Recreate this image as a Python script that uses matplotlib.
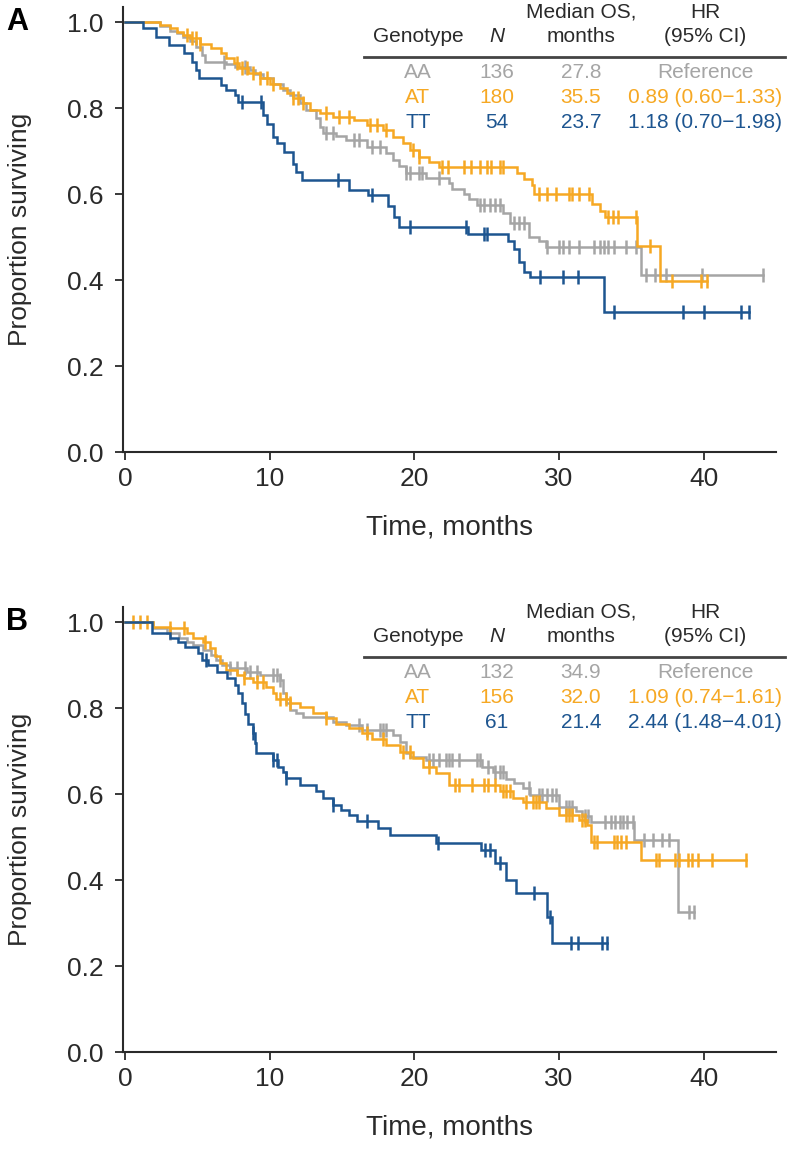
import matplotlib.pyplot as plt
import numpy as np

plt.rcParams['font.family'] = ['Liberation Sans', 'DejaVu Sans']

GREY = '#a5a5a5'
ORANGE = '#f6a823'
BLUE = '#1d5590'
INK = '#2a2a2a'

genotypes = ['AA', 'AT', 'TT']

# ---- panel A: step times / survival levels / censor times ----
a_aa_t = [0, 2.4, 3.1, 3.6, 4.0, 4.5, 4.9, 5.3, 5.5, 7.0, 7.6, 8.6, 9.0, 9.5, 10.2, 10.9, 11.4,
          12.1, 12.5, 13.2, 13.5, 13.7, 14.6, 15.3, 16.7, 18.0, 18.5, 18.9, 19.4, 20.8, 22.4,
          22.6, 23.4, 23.8, 24.3, 26.1, 26.6, 27.9, 28.6, 29.1, 35.7]
a_aa_s = [1.0, 0.99, 0.98, 0.975, 0.966, 0.955, 0.942, 0.923, 0.907, 0.902, 0.896, 0.888, 0.88,
          0.87, 0.857, 0.842, 0.83, 0.811, 0.795, 0.776, 0.757, 0.741, 0.735, 0.726, 0.71, 0.695,
          0.68, 0.665, 0.648, 0.637, 0.625, 0.612, 0.6, 0.588, 0.575, 0.556, 0.532, 0.5, 0.49,
          0.477, 0.412]
a_aa_cens = [6.8, 8.3, 13.9, 14.4, 15.8, 16.2, 17.1, 17.6, 19.4, 19.7, 20.3, 20.5, 21.7, 24.5,
             24.8, 25.2, 25.6, 25.9, 26.9, 27.2, 27.6, 29.2, 30.0, 30.3, 30.7, 31.4, 32.4, 32.8,
             33.1, 33.4, 33.8, 34.6, 35.3, 36.0, 36.6, 37.4, 39.9, 44.1]

a_at_t = [0, 2.4, 3.1, 3.6, 4.0, 4.5, 5.2, 5.9, 6.6, 7.0, 7.5, 7.9, 8.5, 9.3, 10.0, 10.7, 11.2,
          11.6, 12.3, 12.8, 13.5, 14.4, 15.8, 16.7, 17.8, 18.5, 19.2, 19.7, 20.3, 21.0, 21.7,
          27.1, 27.6, 28.1, 28.3, 32.3, 32.8, 33.2, 35.4, 37.0]
a_at_s = [1.0, 0.993, 0.985, 0.977, 0.970, 0.962, 0.950, 0.939, 0.927, 0.916, 0.904, 0.892,
          0.881, 0.869, 0.857, 0.846, 0.834, 0.823, 0.811, 0.795, 0.788, 0.780, 0.772, 0.760,
          0.749, 0.733, 0.718, 0.702, 0.687, 0.675, 0.663, 0.65, 0.635, 0.62, 0.60, 0.577, 0.56,
          0.546, 0.479, 0.398]
a_at_cens = [4.25, 4.6, 4.9, 5.2, 7.7, 8.05, 8.4, 8.85, 9.3, 9.8, 10.2, 11.6, 11.95, 12.3, 13.9,
             14.8, 15.5, 16.9, 17.4, 18.0, 19.9, 20.3, 21.9, 22.3, 23.4, 23.9, 24.5, 25.0, 25.3,
             25.9, 26.1, 28.6, 29.2, 29.8, 30.7, 30.9, 31.4, 32.1, 33.4, 33.7, 34.1, 35.3, 36.3,
             37.8, 39.8, 40.2]

a_tt_t = [0, 1.2, 2.1, 3.0, 4.1, 4.6, 4.9, 5.1, 6.6, 7.0, 7.6, 7.8, 9.5, 9.8, 10.2, 10.5, 11.0,
          11.6, 11.8, 12.2, 15.5, 16.8, 18.2, 18.6, 18.9, 23.7, 26.5, 26.9, 27.2, 27.6, 28.0, 33.1]
a_tt_s = [1.0, 0.985, 0.966, 0.947, 0.927, 0.908, 0.888, 0.869, 0.854, 0.842, 0.83, 0.814, 0.784,
          0.764, 0.733, 0.718, 0.698, 0.671, 0.652, 0.633, 0.61, 0.598, 0.571, 0.547, 0.524,
          0.507, 0.49, 0.472, 0.442, 0.419, 0.407, 0.326]
a_tt_cens = [8.05, 9.4, 14.7, 17.1, 19.7, 23.6, 24.8, 25.0, 28.7, 30.3, 31.3, 33.8, 38.6, 40.0,
             42.6, 43.1]

a_n = [136, 180, 54]
a_median = ['27.8', '35.5', '23.7']
a_hr = ['Reference', '0.89 (0.60\u22121.33)', '1.18 (0.70\u22121.98)']

# ---- panel B ----
b_aa_t = [0, 1.95, 2.9, 3.7, 4.25, 4.7, 5.4, 5.9, 6.3, 6.7, 7.24, 8.4, 9.3, 10.7, 10.9, 11.15,
          11.4, 11.8, 12.3, 14.4, 15.3, 16.4, 18.5, 19.0, 19.4, 19.7, 20.8, 24.7, 25.4, 26.3,
          26.9, 27.5, 28.0, 30.0, 31.2, 31.6, 32.2, 35.2, 38.2]
b_aa_s = [1.0, 0.985, 0.974, 0.962, 0.954, 0.946, 0.935, 0.923, 0.912, 0.9, 0.892, 0.884, 0.877,
          0.866, 0.834, 0.811, 0.795, 0.788, 0.780, 0.768, 0.76, 0.749, 0.738, 0.72, 0.695, 0.686,
          0.679, 0.663, 0.652, 0.636, 0.625, 0.613, 0.597, 0.57, 0.56, 0.548, 0.536, 0.493, 0.326]
b_aa_cens = [3.1, 7.24, 7.7, 8.3, 8.6, 9.1, 10.2, 10.5, 10.7, 16.2, 16.7, 17.6, 17.8, 18.05, 21.0,
             21.3, 21.7, 22.2, 22.4, 22.6, 23.1, 24.3, 24.5, 25.1, 25.6, 25.9, 26.1, 27.9, 28.6,
             28.8, 29.2, 29.5, 29.8, 30.5, 30.7, 30.9, 31.8, 32.0, 33.2, 33.6, 33.9, 34.2, 34.4,
             34.7, 35.1, 35.9, 36.5, 37.1, 37.6, 39.0, 39.3]

b_at_t = [0, 1.95, 3.1, 4.25, 4.7, 5.4, 5.86, 6.2, 6.55, 7.0, 7.7, 8.2, 8.85, 9.77, 10.2, 10.46,
          11.4, 12.1, 13.0, 13.9, 14.6, 15.5, 16.4, 17.1, 18.05, 19.0, 19.9, 20.6, 21.5, 22.4,
          25.9, 26.8, 27.5, 29.1, 30.0, 31.4, 31.9, 32.2, 35.7]
b_at_s = [1.0, 0.989, 0.985, 0.974, 0.962, 0.954, 0.939, 0.92, 0.904, 0.888, 0.877, 0.869, 0.861,
          0.85, 0.834, 0.822, 0.811, 0.803, 0.788, 0.776, 0.764, 0.753, 0.741, 0.729, 0.714,
          0.698, 0.683, 0.663, 0.648, 0.621, 0.606, 0.59, 0.582, 0.567, 0.551, 0.539, 0.528,
          0.489, 0.446]
b_at_cens = [0.57, 1.03, 1.5, 3.1, 4.1, 5.5, 8.2, 9.1, 9.5, 10.7, 11.15, 11.4, 13.9, 16.7, 17.8,
             19.2, 19.7, 21.0, 22.8, 23.1, 24.0, 24.8, 25.1, 25.6, 26.1, 26.3, 26.6, 27.7, 28.2,
             28.4, 28.6, 30.5, 30.7, 30.9, 31.6, 31.8, 32.4, 32.6, 33.8, 34.0, 34.3, 34.6, 36.7,
             36.9, 38.0, 38.3, 38.9, 39.2, 39.6, 40.6, 42.9]

b_tt_t = [0, 1.84, 3.1, 3.68, 4.14, 5.06, 5.29, 5.75, 6.32, 7.01, 7.59, 7.82, 8.05, 8.28, 8.5,
          8.85, 8.97, 9.08, 10.2, 10.6, 10.9, 11.15, 12.1, 13.2, 13.7, 14.4, 14.9, 15.5, 16.0,
          17.5, 18.3, 21.5, 24.6, 25.6, 26.3, 27.0, 29.2, 29.5]
b_tt_s = [1.0, 0.974, 0.962, 0.954, 0.942, 0.927, 0.912, 0.9, 0.884, 0.869, 0.853, 0.834, 0.811,
          0.787, 0.764, 0.741, 0.718, 0.695, 0.679, 0.664, 0.652, 0.637, 0.621, 0.606, 0.59,
          0.575, 0.563, 0.552, 0.538, 0.522, 0.505, 0.486, 0.47, 0.44, 0.40, 0.369, 0.315, 0.253]
b_tt_cens = [5.6, 8.85, 10.2, 10.5, 11.15, 14.4, 16.7, 21.6, 24.9, 25.2, 25.9, 28.3, 29.4, 30.8,
             31.3, 33.0, 33.3]

b_n = [132, 156, 61]
b_median = ['34.9', '32.0', '21.4']
b_hr = ['Reference', '1.09 (0.74\u22121.61)', '2.44 (1.48\u22124.01)']

colors = [GREY, ORANGE, BLUE]

W, H = 787, 1150
fig = plt.figure(figsize=(W / 100, H / 100), dpi=100)


def fx(px):
    return px / W


def fy(py):
    return 1 - py / H


def km(ax, t, s, cens, color):
    t = np.asarray(t, float)
    s = np.asarray(s, float)
    cens = np.asarray(cens, float)
    end = max(t[-1], cens.max())
    ax.step(np.append(t, end), np.append(s, s[-1]), where='post', color=color, lw=1.8,
            solid_joinstyle='miter')
    cy = s[np.searchsorted(t, cens, side='right') - 1]
    ax.plot(cens, cy, ls='none', marker='|', ms=10, mew=1.8, color=color)


def panel(bottom_px, letter, curves, n, med, hr, top_px):
    ax = fig.add_axes([fx(123), fy(bottom_px), fx(776 - 123), 445 / H])
    for (t, s, c), col in zip(curves, colors):
        km(ax, t, s, c, col)
    ax.set_xlim(-0.15, 45)
    ax.set_ylim(0, 1.035)
    ax.set_xticks([0, 10, 20, 30, 40])
    ax.set_yticks([0, 0.2, 0.4, 0.6, 0.8, 1.0])
    ax.set_yticklabels(['0.0', '0.2', '0.4', '0.6', '0.8', '1.0'])
    for sp in ['top', 'right']:
        ax.spines[sp].set_visible(False)
    for sp in ['left', 'bottom']:
        ax.spines[sp].set_linewidth(1.5)
        ax.spines[sp].set_color(INK)
    ax.tick_params(direction='out', length=6, width=1.3, color=INK, labelsize=19,
                   labelcolor=INK)
    ax.tick_params(axis='x', pad=5)
    ax.tick_params(axis='y', pad=8)
    ax.set_xlabel('Time, months', fontsize=20, color=INK, labelpad=17)
    ax.set_ylabel('Proportion surviving', fontsize=19, color=INK)
    ax.yaxis.set_label_coords(-0.14, 0.5)
    fig.text(fx(6), fy(top_px + 22), letter, fontsize=22, fontweight='bold', color='black',
             ha='left', va='center')

    # table
    cols = [418, 497, 581, 705]
    y1, y2 = top_px + 12, top_px + 36
    fs = 15
    fig.text(fx(cols[0]), fy(y2), 'Genotype', fontsize=fs, color=INK, ha='center', va='center')
    fig.text(fx(cols[1]), fy(y2), 'N', fontsize=fs, style='italic', color=INK, ha='center',
             va='center')
    fig.text(fx(cols[2]), fy(y1), 'Median OS,', fontsize=fs, color=INK, ha='center', va='center')
    fig.text(fx(cols[2]), fy(y2), 'months', fontsize=fs, color=INK, ha='center', va='center')
    fig.text(fx(cols[3]), fy(y1), 'HR', fontsize=fs, color=INK, ha='center', va='center')
    fig.text(fx(cols[3]), fy(y2), '(95% CI)', fontsize=fs, color=INK, ha='center', va='center')
    fig.add_artist(plt.Line2D([fx(364), fx(785)], [fy(top_px + 57)] * 2, color='#444444',
                              lw=2.0))
    for i, g in enumerate(genotypes):
        yy = fy(top_px + 73 + i * 24.5)
        for x, txt in zip(cols, [g, str(n[i]), med[i], hr[i]]):
            fig.text(fx(x), yy, txt, fontsize=fs, color=colors[i], ha='center', va='center')
    return ax


panel(452, 'A', [(a_aa_t, a_aa_s, a_aa_cens), (a_at_t, a_at_s, a_at_cens),
                 (a_tt_t, a_tt_s, a_tt_cens)], a_n, a_median, a_hr, 0)
panel(1052, 'B', [(b_aa_t, b_aa_s, b_aa_cens), (b_at_t, b_at_s, b_at_cens),
                  (b_tt_t, b_tt_s, b_tt_cens)], b_n, b_median, b_hr, 600)

fig.savefig('out.png', dpi=100)
